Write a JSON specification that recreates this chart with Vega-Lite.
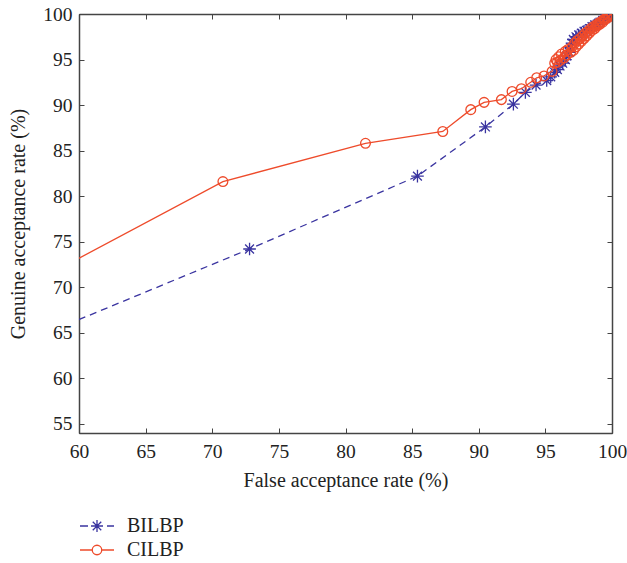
{
  "$schema": "https://vega.github.io/schema/vega-lite/v6.json",
  "width": 533,
  "height": 419,
  "autosize": {"type": "none"},
  "padding": {"left": 79, "top": 14, "right": 15, "bottom": 130},
  "background": "white",
  "config": {
    "view": {"stroke": "#333333", "strokeWidth": 1},
    "font": "Liberation Serif",
    "axis": {
      "labelFont": "Liberation Serif",
      "titleFont": "Liberation Serif",
      "labelFontSize": 19.5,
      "titleFontSize": 20,
      "labelColor": "#222222",
      "titleColor": "#222222",
      "titleFontWeight": "normal",
      "domainColor": "#444444",
      "domainWidth": 1.5,
      "tickColor": "#444444",
      "tickWidth": 1,
      "grid": false
    },
    "legend": {
      "labelFont": "Liberation Serif",
      "labelFontSize": 20,
      "labelColor": "#222222"
    }
  },
  "data": {
    "values": [
      {"s": "BILBP", "x": 50, "y": 60.4},
      {"s": "BILBP", "x": 72.8, "y": 74.2},
      {"s": "BILBP", "x": 85.4, "y": 82.2},
      {"s": "BILBP", "x": 90.5, "y": 87.6},
      {"s": "BILBP", "x": 92.6, "y": 90.1},
      {"s": "BILBP", "x": 93.5, "y": 91.4},
      {"s": "BILBP", "x": 94.3, "y": 92.2},
      {"s": "BILBP", "x": 95.1, "y": 92.7},
      {"s": "BILBP", "x": 95.4, "y": 93.1},
      {"s": "BILBP", "x": 95.7, "y": 93.6},
      {"s": "BILBP", "x": 95.9, "y": 93.9},
      {"s": "BILBP", "x": 96.1, "y": 94.3},
      {"s": "BILBP", "x": 96.3, "y": 94.6},
      {"s": "BILBP", "x": 96.5, "y": 95.0},
      {"s": "BILBP", "x": 96.6, "y": 95.4},
      {"s": "BILBP", "x": 96.8, "y": 95.8},
      {"s": "BILBP", "x": 96.9, "y": 96.3},
      {"s": "BILBP", "x": 97.0, "y": 96.8},
      {"s": "BILBP", "x": 97.1, "y": 97.2},
      {"s": "BILBP", "x": 97.3, "y": 97.5},
      {"s": "BILBP", "x": 97.5, "y": 97.7},
      {"s": "BILBP", "x": 97.7, "y": 97.9},
      {"s": "BILBP", "x": 97.9, "y": 98.1},
      {"s": "BILBP", "x": 98.1, "y": 98.2},
      {"s": "BILBP", "x": 98.3, "y": 98.4},
      {"s": "BILBP", "x": 98.5, "y": 98.6},
      {"s": "BILBP", "x": 98.7, "y": 98.8},
      {"s": "BILBP", "x": 98.9, "y": 98.9},
      {"s": "BILBP", "x": 99.1, "y": 99.1},
      {"s": "BILBP", "x": 99.3, "y": 99.3},
      {"s": "BILBP", "x": 99.5, "y": 99.5},
      {"s": "BILBP", "x": 99.7, "y": 99.7},
      {"s": "BILBP", "x": 99.9, "y": 99.9},
      {"s": "BILBP", "x": 100, "y": 100},
      {"s": "CILBP", "x": 50, "y": 65.4},
      {"s": "CILBP", "x": 70.8, "y": 81.6},
      {"s": "CILBP", "x": 81.5, "y": 85.8},
      {"s": "CILBP", "x": 87.3, "y": 87.1},
      {"s": "CILBP", "x": 89.4, "y": 89.5},
      {"s": "CILBP", "x": 90.4, "y": 90.3},
      {"s": "CILBP", "x": 91.7, "y": 90.6},
      {"s": "CILBP", "x": 92.5, "y": 91.5},
      {"s": "CILBP", "x": 93.2, "y": 91.8},
      {"s": "CILBP", "x": 93.9, "y": 92.5},
      {"s": "CILBP", "x": 94.35, "y": 93.0},
      {"s": "CILBP", "x": 94.9, "y": 93.2},
      {"s": "CILBP", "x": 95.5, "y": 93.7},
      {"s": "CILBP", "x": 95.7, "y": 94.6},
      {"s": "CILBP", "x": 95.8, "y": 95.0},
      {"s": "CILBP", "x": 95.9, "y": 94.7},
      {"s": "CILBP", "x": 96.0, "y": 95.3},
      {"s": "CILBP", "x": 96.1, "y": 94.9},
      {"s": "CILBP", "x": 96.2, "y": 95.6},
      {"s": "CILBP", "x": 96.4, "y": 95.2},
      {"s": "CILBP", "x": 96.5, "y": 95.9},
      {"s": "CILBP", "x": 96.6, "y": 95.5},
      {"s": "CILBP", "x": 96.7, "y": 96.1},
      {"s": "CILBP", "x": 96.9, "y": 95.8},
      {"s": "CILBP", "x": 97.0, "y": 96.4},
      {"s": "CILBP", "x": 97.1, "y": 96.0},
      {"s": "CILBP", "x": 97.2, "y": 96.8},
      {"s": "CILBP", "x": 97.3, "y": 96.4},
      {"s": "CILBP", "x": 97.4, "y": 97.1},
      {"s": "CILBP", "x": 97.5, "y": 96.7},
      {"s": "CILBP", "x": 97.6, "y": 97.3},
      {"s": "CILBP", "x": 97.7, "y": 97.0},
      {"s": "CILBP", "x": 97.8, "y": 97.6},
      {"s": "CILBP", "x": 97.9, "y": 97.3},
      {"s": "CILBP", "x": 98.0, "y": 97.9},
      {"s": "CILBP", "x": 98.1, "y": 97.6},
      {"s": "CILBP", "x": 98.2, "y": 98.1},
      {"s": "CILBP", "x": 98.3, "y": 97.9},
      {"s": "CILBP", "x": 98.4, "y": 98.4},
      {"s": "CILBP", "x": 98.5, "y": 98.2},
      {"s": "CILBP", "x": 98.6, "y": 98.6},
      {"s": "CILBP", "x": 98.7, "y": 98.4},
      {"s": "CILBP", "x": 98.8, "y": 98.8},
      {"s": "CILBP", "x": 98.9, "y": 98.7},
      {"s": "CILBP", "x": 99.0, "y": 99.0},
      {"s": "CILBP", "x": 99.1, "y": 98.9},
      {"s": "CILBP", "x": 99.2, "y": 99.2},
      {"s": "CILBP", "x": 99.3, "y": 99.1},
      {"s": "CILBP", "x": 99.4, "y": 99.4},
      {"s": "CILBP", "x": 99.5, "y": 99.4},
      {"s": "CILBP", "x": 99.6, "y": 99.6},
      {"s": "CILBP", "x": 99.7, "y": 99.6},
      {"s": "CILBP", "x": 99.8, "y": 99.8},
      {"s": "CILBP", "x": 99.9, "y": 99.9},
      {"s": "CILBP", "x": 100, "y": 100}
    ]
  },
  "resolve": {"axis": {"x": "independent", "y": "independent"}},
  "layer": [
    {
      "transform": [{"filter": "datum.s === 'BILBP'"}],
      "mark": {"type": "line", "clip": true, "color": "#3a34a0", "strokeWidth": 1.3, "strokeDash": [7, 5]},
      "encoding": {
        "x": {"field": "x", "type": "quantitative", "scale": {"domain": [60, 100], "nice": false, "zero": false},
          "axis": {"orient": "bottom", "title": "False acceptance rate (%)", "values": [60, 65, 70, 75, 80, 85, 90, 95, 100], "tickSize": -5, "labelPadding": 14, "titlePadding": 10, "labelFlush": false}},
        "y": {"field": "y", "type": "quantitative", "scale": {"domain": [54, 100], "nice": false, "zero": false},
          "axis": {"orient": "left", "title": "Genuine acceptance rate (%)", "values": [55, 60, 65, 70, 75, 80, 85, 90, 95, 100], "tickSize": -5, "labelPadding": 12, "titlePadding": 14, "labelFlush": false}}
      }
    },
    {
      "transform": [{"filter": "datum.s === 'BILBP'"}],
      "mark": {"type": "point", "clip": true, "filled": false, "color": "#3a34a0", "strokeWidth": 1.3, "size": 160, "opacity": 1,
        "shape": "M-1,0L1,0M0,-1L0,1M-0.7,-0.7L0.7,0.7M-0.7,0.7L0.7,-0.7"},
      "encoding": {
        "x": {"field": "x", "type": "quantitative", "axis": {"orient": "top", "labels": false, "title": null, "values": [60, 65, 70, 75, 80, 85, 90, 95, 100], "tickSize": -5}},
        "y": {"field": "y", "type": "quantitative", "axis": {"orient": "right", "labels": false, "title": null, "values": [55, 60, 65, 70, 75, 80, 85, 90, 95, 100], "tickSize": -5}}
      }
    },
    {
      "transform": [{"filter": "datum.s === 'CILBP'"}],
      "mark": {"type": "line", "clip": true, "color": "#ee4b2b", "strokeWidth": 1.3},
      "encoding": {
        "x": {"field": "x", "type": "quantitative", "axis": null},
        "y": {"field": "y", "type": "quantitative", "axis": null}
      }
    },
    {
      "transform": [{"filter": "datum.s === 'CILBP'"}],
      "mark": {"type": "point", "clip": true, "filled": false, "color": "#ee4b2b", "strokeWidth": 1.3, "size": 95, "opacity": 1, "shape": "circle"},
      "encoding": {
        "x": {"field": "x", "type": "quantitative", "axis": null},
        "y": {"field": "y", "type": "quantitative", "axis": null}
      }
    },
    {
      "transform": [{"filter": "false"}],
      "mark": {"type": "point", "filled": false, "strokeWidth": 1.3, "opacity": 1},
      "encoding": {
        "x": {"field": "x", "type": "quantitative", "axis": null},
        "y": {"field": "y", "type": "quantitative", "axis": null},
        "color": {"field": "s", "type": "nominal",
          "scale": {"domain": ["BILBP", "CILBP"], "range": ["#3a34a0", "#ee4b2b"]},
          "legend": {"title": null, "orient": "none", "legendX": 4.5, "legendY": 498.5, "padding": 0, "symbolSize": 625, "symbolStrokeWidth": 1.3, "labelOffset": 16.5, "rowPadding": 0}},
        "shape": {"field": "s", "type": "nominal",
          "scale": {"domain": ["BILBP", "CILBP"], "range": [
            "M-1.36,0L-0.72,0M0.8,0L1.36,0M-0.48,0L0.48,0M0,-0.48L0,0.48M-0.34,-0.34L0.34,0.34M-0.34,0.34L0.34,-0.34",
            "M-1.36,0L-0.38,0M0.38,0L1.36,0M0.38,0A0.38,0.38 0 1,1 -0.38,0A0.38,0.38 0 1,1 0.38,0"
          ]},
          "legend": {"title": null, "orient": "none", "legendX": 4.5, "legendY": 498.5, "padding": 0, "symbolSize": 625, "symbolStrokeWidth": 1.3, "labelOffset": 16.5, "rowPadding": 0}}
      }
    }
  ]
}
